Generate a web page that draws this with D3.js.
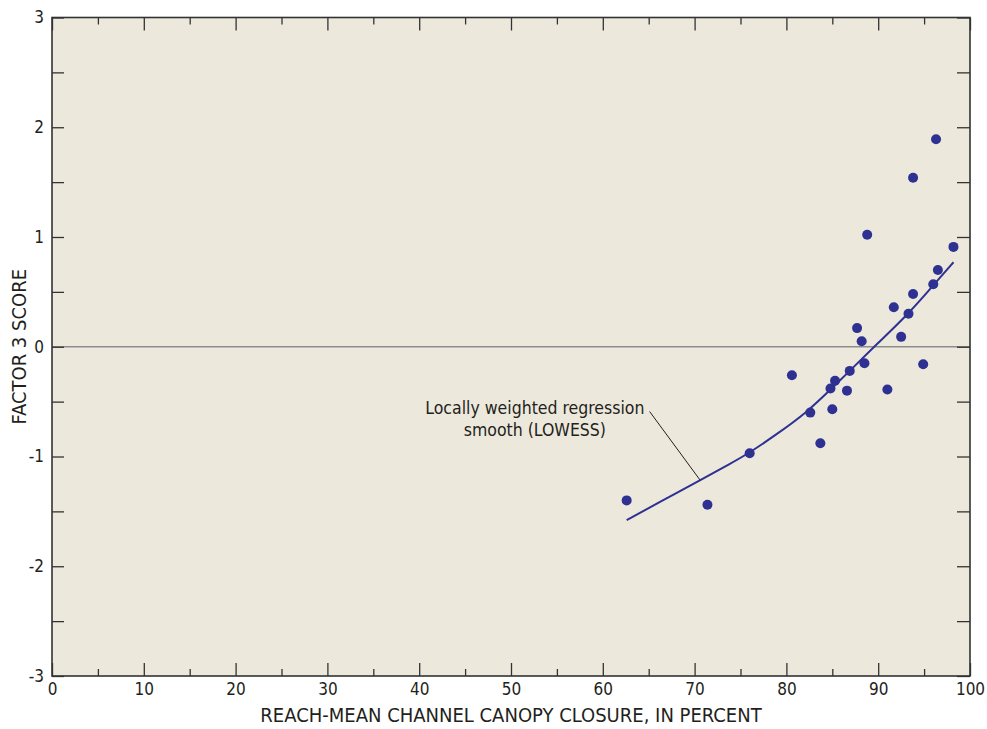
<!DOCTYPE html>
<html>
<head>
<meta charset="utf-8">
<script src="https://cdn.jsdelivr.net/npm/d3@7"></script>
<style>
  body { margin: 0; background: #fff; }
  svg { display: block; }
  text { font-family: "Liberation Sans Narrow", "DejaVu Sans Condensed", "Roboto", sans-serif; fill: #231f20; }
</style>
</head>
<body>
<svg width="987" height="729"></svg>
<script>
// canopy closure (percent) and factor 3 score for each site
let canopy = [62.6, 71.4, 76.0, 80.6, 82.6, 83.7, 84.8, 85.3, 85.0, 86.6, 86.9, 87.7, 88.2, 88.5, 88.8,
              91.0, 91.7, 92.5, 93.3, 93.8, 93.8, 94.9, 96.0, 96.3, 96.5, 98.2];
let score = [-1.40, -1.44, -0.97, -0.26, -0.60, -0.88, -0.38, -0.31, -0.57, -0.40, -0.22, 0.17, 0.05, -0.15, 1.02,
             -0.39, 0.36, 0.09, 0.30, 0.48, 1.54, -0.16, 0.57, 1.89, 0.70, 0.91];

// LOWESS smooth
let lowessX = [62.6, 66.2, 70.6, 73.9, 76.0, 78.9, 82.2, 84.8, 86.9, 89.8, 93.3, 96.0, 98.2];
let lowessY = [-1.58, -1.415, -1.215, -1.065, -0.965, -0.80, -0.60, -0.39, -0.22, 0.02, 0.30, 0.56, 0.77];

let xTicks = d3.range(0, 101, 10);
let yTicks = [-3, -2, -1, 0, 1, 2, 3];

document.addEventListener('DOMContentLoaded', (event) => {
    let svg = d3.select("svg");

    let margin = {top: 17.5, right: 17, bottom: 53, left: 52};
    let width = 987 - margin.left - margin.right;
    let height = 729 - margin.top - margin.bottom;

    let xScale = d3.scaleLinear().domain([0, 100]).range([0, width]),
        yScale = d3.scaleLinear().domain([-3, 3]).range([height, 0]);

    let g = svg.append("g")
        .attr("transform", "translate(" + margin.left + "," + margin.top + ")");

    g.append("rect")
        .attr("width", width)
        .attr("height", height)
        .attr("fill", "#ede8dc");

    // zero reference line
    g.append("line")
        .attr("x1", 0).attr("x2", width)
        .attr("y1", yScale(0)).attr("y2", yScale(0))
        .attr("stroke", "#8c8c8c")
        .attr("stroke-width", 1.5);

    // axes with inside ticks
    let minorX = d3.range(5, 100, 10);
    let halfY = d3.range(-2.5, 3, 1);

    let axisColor = "#333";
    function styleAxis(sel) {
        sel.select(".domain").remove();
        sel.selectAll("line").attr("stroke", axisColor).attr("stroke-width", 1.3);
        sel.selectAll("text").attr("font-size", "17px")
            .style("font-family", "'Liberation Sans Narrow', 'DejaVu Sans Condensed', sans-serif")
            .attr("fill", "#231f20");
    }

    g.append("g")
        .attr("transform", "translate(0," + height + ")")
        .call(d3.axisBottom(xScale).tickValues(xTicks).tickSize(-13).tickPadding(7).tickFormat(d3.format("d")))
        .call(styleAxis);
    g.append("g")
        .attr("transform", "translate(0," + height + ")")
        .call(d3.axisBottom(xScale).tickValues(minorX).tickSize(-7).tickFormat(""))
        .call(styleAxis);
    g.append("g")
        .call(d3.axisTop(xScale).tickValues(xTicks).tickSize(-13).tickFormat(""))
        .call(styleAxis);
    g.append("g")
        .call(d3.axisTop(xScale).tickValues(minorX).tickSize(-7).tickFormat(""))
        .call(styleAxis);

    g.append("g")
        .call(d3.axisLeft(yScale).tickValues(yTicks.concat(halfY)).tickSize(-12).tickPadding(8)
            .tickFormat(d => Number.isInteger(d) ? d : ""))
        .call(styleAxis);
    g.append("g")
        .attr("transform", "translate(" + width + ",0)")
        .call(d3.axisRight(yScale).tickValues(yTicks.concat(halfY)).tickSize(-13).tickFormat(""))
        .call(styleAxis);

    // frame
    g.append("rect")
        .attr("width", width)
        .attr("height", height)
        .attr("fill", "none")
        .attr("stroke", axisColor)
        .attr("stroke-width", 1.6);

    // lowess curve
    let line = d3.line()
        .x((d, i) => xScale(lowessX[i]))
        .y((d, i) => yScale(lowessY[i]))
        .curve(d3.curveBasis);
    g.append("path")
        .datum(lowessX)
        .attr("d", line)
        .attr("fill", "none")
        .attr("stroke", "#2e3192")
        .attr("stroke-width", 2);

    // points
    g.selectAll(".dot")
        .data(canopy)
        .enter().append("circle")
        .attr("class", "dot")
        .attr("cx", (d, i) => xScale(canopy[i]))
        .attr("cy", (d, i) => yScale(score[i]))
        .attr("r", 5)
        .attr("fill", "#2e3192");

    // annotation
    let annX = xScale(52.6);
    let ann = g.append("text")
        .attr("font-size", "17.5px")
        .style("text-anchor", "middle");
    ann.append("tspan").attr("x", annX).attr("y", yScale(-0.61)).text("Locally weighted regression");
    ann.append("tspan").attr("x", annX).attr("y", yScale(-0.81)).text("smooth (LOWESS)");

    g.append("line")
        .attr("x1", xScale(65.1)).attr("y1", yScale(-0.59))
        .attr("x2", xScale(70.6)).attr("y2", yScale(-1.215))
        .attr("stroke", "#231f20")
        .attr("stroke-width", 1);

    // axis titles
    svg.append("text")
        .attr("x", margin.left + width / 2)
        .attr("y", 722)
        .attr("font-size", "20px")
        .style("text-anchor", "middle")
        .text("REACH-MEAN CHANNEL CANOPY CLOSURE, IN PERCENT");

    svg.append("text")
        .attr("transform", "translate(26," + (margin.top + yScale(0)) + ") rotate(-90)")
        .attr("font-size", "20px")
        .style("text-anchor", "middle")
        .text("FACTOR 3 SCORE");
});
</script>
</body>
</html>
